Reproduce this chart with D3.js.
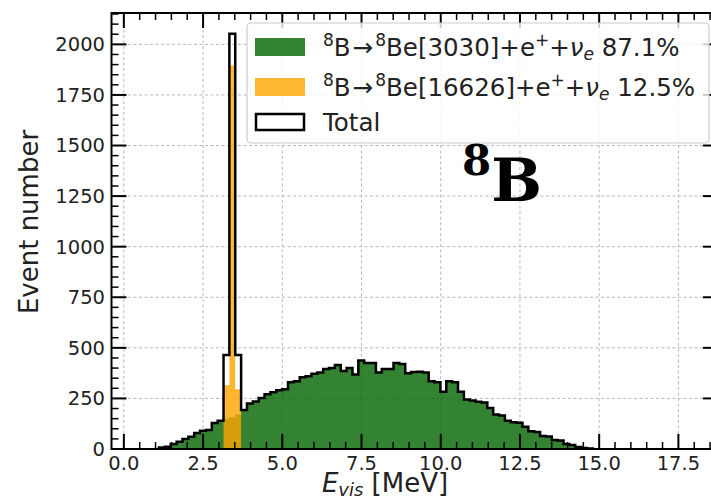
<!DOCTYPE html>
<html lang="en">
<head>
<meta charset="UTF-8">
<title>8B decay visible energy</title>
<script src="https://d3js.org/d3.v7.min.js"></script>
<style>
  body { margin: 0; background: #fff; }
  svg { display: block; font-family: "DejaVu Sans", sans-serif; }
  .tick-label { font-size: 19.5px; fill: #222; }
  .legend-text { font-size: 24.5px; fill: #222; }
</style>
</head>
<body>
<svg id="chart" width="711" height="499"></svg>
<script>
// histogram bins (MeV), counts
var BIN_W = 0.185;
var greenFirstBin = 6;
var greenCounts = [8, 11, 25, 36, 49, 60, 79, 90, 94, 128, 140, 150, 157, 170, 193, 225, 235, 252, 270, 280,
  290, 295, 330, 335, 355, 360, 372, 378, 395, 400, 415, 385, 400, 368, 438, 425, 425, 378, 395, 395,
  425, 420, 375, 380, 382, 378, 335, 330, 283, 335, 330, 283, 245, 240, 234, 230, 203, 170, 165, 140,
  132, 130, 110, 88, 84, 64, 62, 45, 42, 25, 20, 10, 5, 2];
var orangeFirstBin = 17;
var orangeCounts = [315, 1895, 295];

var xTicks = [0, 2.5, 5, 7.5, 10, 12.5, 15, 17.5];
var yTicks = [0, 250, 500, 750, 1000, 1250, 1500, 1750, 2000];
var legendLabels = ["green", "orange", "total"];
var decayLevels = ["3030", "16626"];
var decayShares = ["87.1%", "12.5%"];

(function() {
var svg = d3.select("#chart");
var mL = 111.5, mR = 718, mT = 13, mB = 449;

var x = d3.scaleLinear().domain([-0.39, 18.75]).range([mL, mR]);
var y = d3.scaleLinear().domain([0, 2155]).range([mB, mT]);

// turn counts into bins {lo, hi, v}
function toBins(first, counts) {
  return counts.map(function(v, i) {
    return { lo: (first + i) * BIN_W, hi: (first + i + 1) * BIN_W, v: v };
  });
}
var green = toBins(greenFirstBin, greenCounts);
var orange = toBins(orangeFirstBin, orangeCounts);

// total = sum of both channels
var total = green.map(function(b) {
  var k = Math.round(b.lo / BIN_W) - orangeFirstBin;
  var o = (k >= 0 && k < orangeCounts.length) ? orangeCounts[k] : 0;
  return { lo: b.lo, hi: b.hi, v: b.v + o };
});

svg.append("defs").append("clipPath").attr("id", "plot")
  .append("rect").attr("x", mL).attr("y", mT).attr("width", mR - mL).attr("height", mB - mT);

// grid
var grid = svg.append("g").attr("clip-path", "url(#plot)")
  .attr("stroke", "#b8b8b8").attr("stroke-width", 1).attr("stroke-dasharray", "3,2.5");
grid.selectAll(".gx").data(xTicks).enter().append("line")
  .attr("x1", function(d) { return x(d); }).attr("x2", function(d) { return x(d); })
  .attr("y1", mT).attr("y2", mB);
grid.selectAll(".gy").data(yTicks.slice(1)).enter().append("line")
  .attr("y1", function(d) { return y(d); }).attr("y2", function(d) { return y(d); })
  .attr("x1", mL).attr("x2", mR);

// step area helper
function stepPoints(bins) {
  var pts = bins.map(function(b) { return [b.lo, b.v]; });
  var last = bins[bins.length - 1];
  pts.push([last.hi, last.v]);
  return pts;
}
var area = d3.area().curve(d3.curveStepAfter)
  .x(function(d) { return x(d[0]); })
  .y0(y(0))
  .y1(function(d) { return y(d[1]); });

var plot = svg.append("g").attr("clip-path", "url(#plot)");
plot.append("path").datum(stepPoints(green))
  .attr("d", area).attr("fill", "darkgreen").attr("fill-opacity", 0.8);
plot.append("path").datum(stepPoints(orange))
  .attr("d", area).attr("fill", "orange").attr("fill-opacity", 0.8);

// total outline
var outline = [[total[0].lo, 0]].concat(stepPoints(total));
outline.push([total[total.length - 1].hi, 0]);
var line = d3.line().curve(d3.curveStepAfter)
  .x(function(d) { return x(d[0]); })
  .y(function(d) { return y(d[1]); });
plot.append("path").datum(outline)
  .attr("d", line).attr("fill", "none").attr("stroke", "#000").attr("stroke-width", 2.5)
  .attr("stroke-linejoin", "miter");

// ticks, pointing inward, on all sides
var ticks = svg.append("g").attr("stroke", "#000");
var xMinor = d3.range(0, 19.01, 0.5).filter(function(v) { return xTicks.indexOf(v) < 0; });
var yMinor = d3.range(0, 2151, 50).filter(function(v) { return yTicks.indexOf(v) < 0; });
function xTickMarks(vals, len, w) {
  [mB, mT].forEach(function(edge, i) {
    var dir = i === 0 ? -1 : 1;
    ticks.selectAll(null).data(vals.filter(function(v) { return x(v) < mR; })).enter().append("line")
      .attr("x1", function(d) { return x(d); }).attr("x2", function(d) { return x(d); })
      .attr("y1", edge).attr("y2", edge + dir * len).attr("stroke-width", w);
  });
}
function yTickMarks(vals, len, w) {
  [mL, mR].forEach(function(edge, i) {
    var dir = i === 0 ? 1 : -1;
    ticks.selectAll(null).data(vals).enter().append("line")
      .attr("y1", function(d) { return y(d); }).attr("y2", function(d) { return y(d); })
      .attr("x1", edge).attr("x2", edge + dir * len).attr("stroke-width", w);
  });
}
xTickMarks(xTicks, 15, 2);
xTickMarks(xMinor, 7, 1.5);
yTickMarks(yTicks, 15, 2);
yTickMarks(yMinor, 7, 1.5);

// spines
svg.append("rect").attr("x", mL).attr("y", mT).attr("width", mR - mL).attr("height", mB - mT)
  .attr("fill", "none").attr("stroke", "#000").attr("stroke-width", 2);

// tick labels
svg.append("g").selectAll("text").data(xTicks).enter().append("text")
  .attr("class", "tick-label")
  .attr("x", function(d) { return x(d); }).attr("y", 470)
  .attr("text-anchor", "middle")
  .text(function(d) { return d3.format(".1f")(d); });
svg.append("g").selectAll("text").data(yTicks).enter().append("text")
  .attr("class", "tick-label")
  .attr("x", 105).attr("y", function(d) { return y(d); }).attr("dy", "0.35em")
  .attr("text-anchor", "end")
  .text(function(d) { return d; });

// axis titles
var xl = svg.append("text").attr("x", 385).attr("y", 492).attr("text-anchor", "middle")
  .attr("font-size", 26).attr("fill", "#222");
xl.append("tspan").attr("font-style", "italic").text("E");
xl.append("tspan").attr("font-style", "italic").attr("font-size", 18).attr("dy", 4).text("vis");
xl.append("tspan").attr("dy", -4).text(" [MeV]");

svg.append("text").attr("transform", "translate(38,222) rotate(-90)")
  .attr("text-anchor", "middle").attr("font-size", 26).attr("fill", "#222")
  .text("Event number");

// legend
var lg = svg.append("g");
lg.append("rect").attr("x", 247).attr("y", 23).attr("width", 462).attr("height", 120).attr("rx", 4)
  .attr("fill", "#fff").attr("fill-opacity", 0.8).attr("stroke", "#ccc").attr("stroke-width", 1.2);
var rowsY = [47, 87, 122];
var swatch = { green: ["darkgreen", 0.8, "none"], orange: ["orange", 0.8, "none"], total: ["#fff", 1, "#000"] };
legendLabels.forEach(function(k, i) {
  var s = swatch[k];
  lg.append("rect").attr("x", k === "total" ? 256 : 255).attr("y", rowsY[i] - (k === "total" ? 8 : 9))
    .attr("width", k === "total" ? 48 : 50).attr("height", k === "total" ? 16 : 18)
    .attr("fill", s[0]).attr("fill-opacity", s[1]).attr("stroke", s[2]).attr("stroke-width", 2.5);
});

function decayLabel(yy, level, pct) {
  var t = lg.append("text").attr("class", "legend-text").attr("x", 323).attr("y", yy + 9);
  t.append("tspan").attr("font-size", 17).attr("dy", -10).text("8");
  t.append("tspan").attr("dy", 10).text("B");
  t.append("tspan").attr("dx", 2).text("\u2192");
  t.append("tspan").attr("font-size", 17).attr("dx", 2).attr("dy", -10).text("8");
  t.append("tspan").attr("dy", 10).text("Be[" + level + "]+e");
  t.append("tspan").attr("font-size", 17).attr("dy", -10).text("+");
  t.append("tspan").attr("dy", 10).text("+");
  t.append("tspan").attr("font-style", "italic").text("\u03bd");
  t.append("tspan").attr("font-style", "italic").attr("font-size", 17).attr("dy", 4).text("e");
  t.append("tspan").attr("dy", -4).text(" " + pct);
}
decayLabel(rowsY[0], decayLevels[0], decayShares[0]);
decayLabel(rowsY[1], decayLevels[1], decayShares[1]);
lg.append("text").attr("class", "legend-text").attr("x", 323).attr("y", rowsY[2] + 9).text("Total");

// big isotope tag
var tag = svg.append("text").attr("x", 462).attr("y", 201)
  .attr("font-family", "'DejaVu Serif', serif").attr("font-weight", "bold").attr("fill", "#000");
tag.append("tspan").attr("font-size", 42).attr("dy", -26).text("8");
tag.append("tspan").attr("font-size", 60).attr("dy", 26).text("B");
})();
</script>
</body>
</html>
